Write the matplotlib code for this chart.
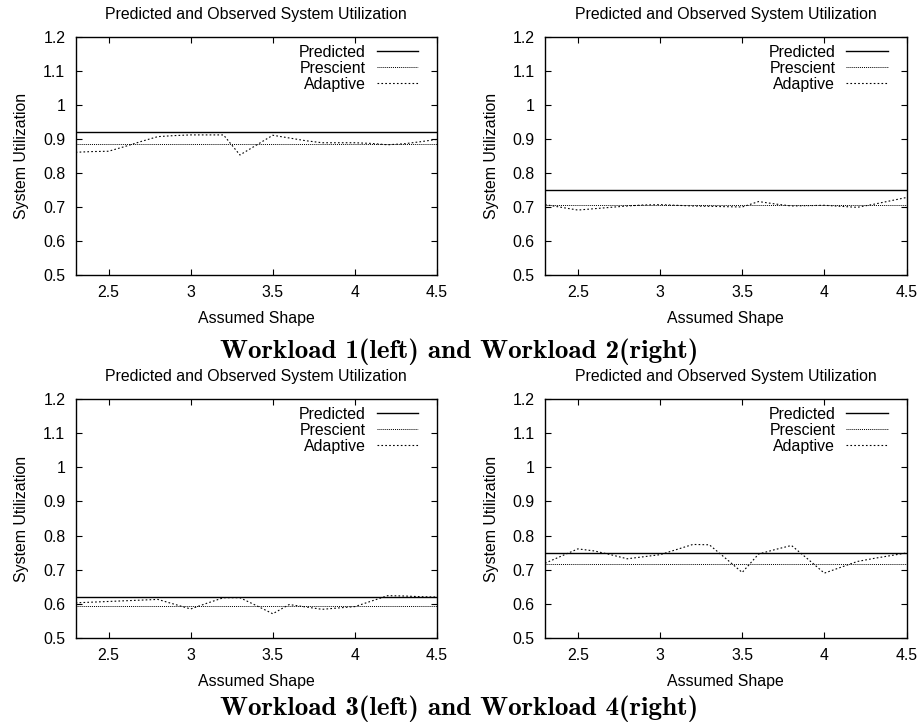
import numpy as np
import matplotlib
matplotlib.use("Agg")
import matplotlib.pyplot as plt

plt.rcParams["font.family"] = ["Liberation Sans", "DejaVu Sans"]

# assumed shape parameter, one run every 0.1
shape = [2.3, 2.4, 2.5, 2.6, 2.7, 2.8, 2.9, 3.0, 3.1, 3.2, 3.3, 3.4,
         3.5, 3.6, 3.7, 3.8, 3.9, 4.0, 4.1, 4.2, 4.3, 4.4, 4.5]

predicted = [0.921, 0.750, 0.620, 0.750]
prescient = [0.885, 0.707, 0.595, 0.716]

adaptive_w1 = [0.861, 0.863, 0.864, 0.878, 0.893, 0.907, 0.910, 0.912, 0.912, 0.912, 0.853, 0.882,
               0.911, 0.903, 0.895, 0.889, 0.889, 0.889, 0.887, 0.883, 0.886, 0.892, 0.899]
adaptive_w2 = [0.707, 0.699, 0.691, 0.695, 0.699, 0.703, 0.706, 0.707, 0.705, 0.703, 0.702, 0.701,
               0.700, 0.716, 0.709, 0.703, 0.704, 0.705, 0.702, 0.699, 0.708, 0.718, 0.728]
adaptive_w3 = [0.603, 0.605, 0.607, 0.609, 0.611, 0.613, 0.599, 0.585, 0.602, 0.618, 0.618, 0.595,
               0.571, 0.598, 0.591, 0.584, 0.588, 0.592, 0.608, 0.624, 0.623, 0.621, 0.620]
adaptive_w4 = [0.719, 0.740, 0.761, 0.755, 0.744, 0.732, 0.738, 0.744, 0.759, 0.774, 0.773, 0.733,
               0.692, 0.746, 0.759, 0.771, 0.731, 0.690, 0.707, 0.724, 0.733, 0.741, 0.749]

adaptive = [adaptive_w1, adaptive_w2, adaptive_w3, adaptive_w4]

xticks = [2.5, 3.0, 3.5, 4.0, 4.5]
xticklabels = ["2.5", "3", "3.5", "4", "4.5"]
yticks = [0.5, 0.6, 0.7, 0.8, 0.9, 1.0, 1.1, 1.2]
yticklabels = ["0.5", "0.6", "0.7", "0.8", "0.9", "1", "1.1", "1.2"]

captions = ["Workload 1(left) and Workload 2(right)",
            "Workload 3(left) and Workload 4(right)"]

W, H = 919, 728
fig = plt.figure(figsize=(W / 100, H / 100), dpi=100)

# axes boxes in pixels: left, right, top, bottom
boxes = [(75.7, 437, 37, 275), (545, 906.5, 37, 275),
         (75.7, 437, 399, 638), (545, 906.5, 399, 638)]

fs = 11.4
for i, (l, r, t, b) in enumerate(boxes):
    ax = fig.add_axes([l / W, 1 - b / H, (r - l) / W, (b - t) / H])
    ax.plot([shape[0], shape[-1]], [predicted[i]] * 2, color="black", lw=1.0, label="Predicted")
    ax.plot([shape[0], shape[-1]], [prescient[i]] * 2, color="black", lw=0.7,
            linestyle=(0, (1, 1)), label="Prescient")
    ax.plot(shape, adaptive[i], color="black", lw=0.8,
            linestyle=(0, (1.5, 2)), label="Adaptive")
    ax.set_xlim(2.3, 4.5)
    ax.set_ylim(0.5, 1.2)
    ax.set_xticks(xticks)
    ax.set_xticklabels(xticklabels)
    ax.set_yticks(yticks)
    ax.set_yticklabels(yticklabels)
    ax.tick_params(direction="in", length=4, width=0.8, top=True, right=True,
                   labelsize=fs)
    ax.tick_params(axis="x", pad=7)
    ax.tick_params(axis="y", pad=7.5)
    for s in ax.spines.values():
        s.set_linewidth(1.0)
    ax.set_title("Predicted and Observed System Utilization", fontsize=fs, pad=13)
    ax.set_xlabel("Assumed Shape", fontsize=fs, labelpad=8)
    ax.set_ylabel("System Utilization", fontsize=fs, labelpad=10)
    ax.legend(loc="upper right", bbox_to_anchor=(0.965, 0.995), frameon=False,
              markerfirst=False, fontsize=fs, handlelength=2.6,
              handletextpad=0.7, labelspacing=0.07, borderaxespad=0.0)

for cy, cap in zip([352, 709], captions):
    fig.text(0.5, 1 - cy / H, cap, ha="center", va="center", fontsize=19.5,
             family="cmb10")

fig.savefig("out.png", dpi=100)
